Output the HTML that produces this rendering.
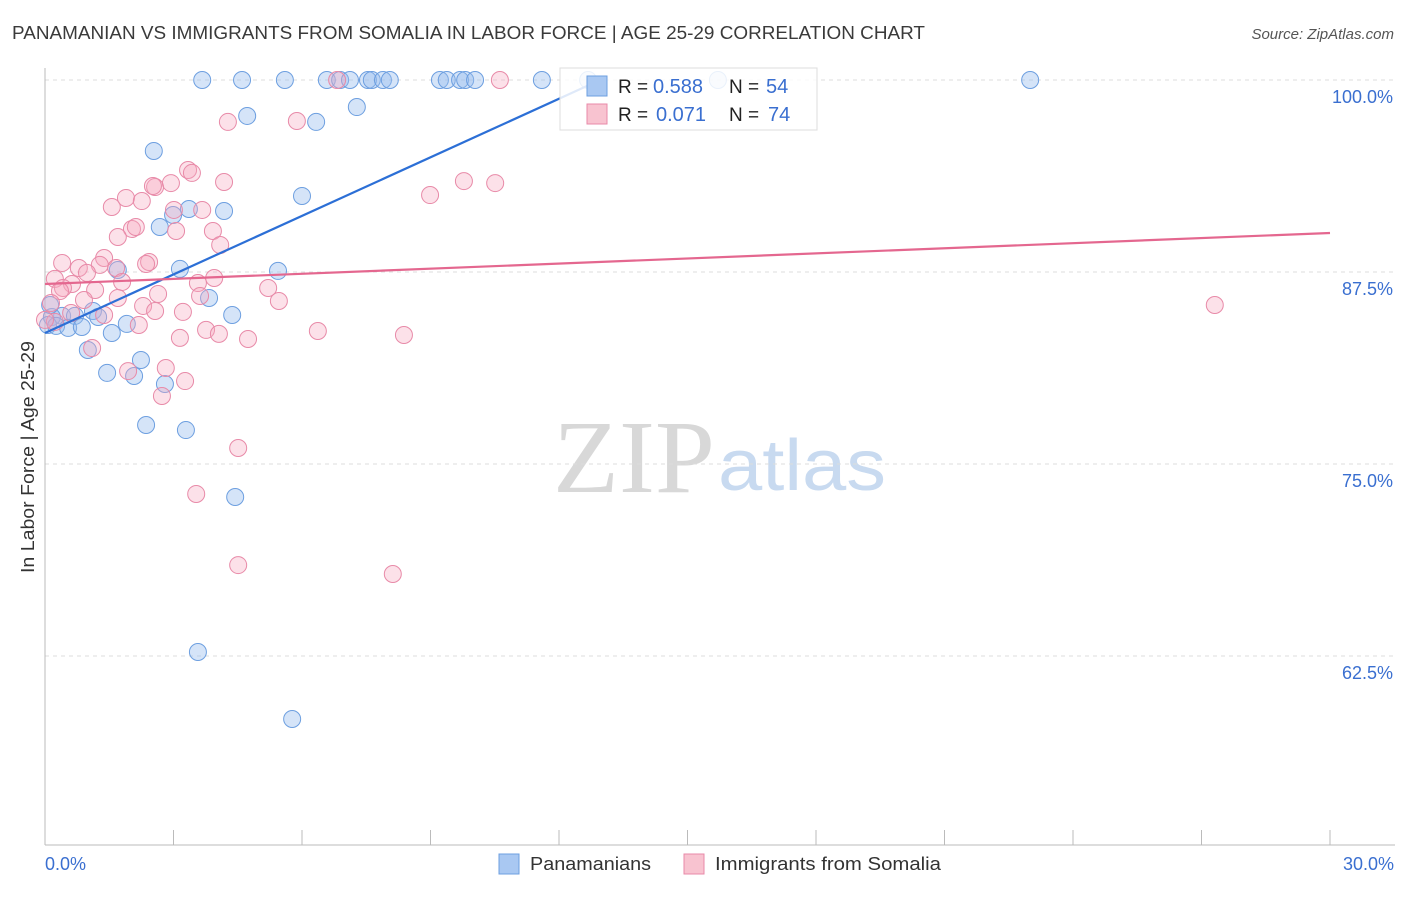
<!DOCTYPE html>
<html><head><meta charset="utf-8"><style>
body{margin:0;background:#fff;font-family:"Liberation Sans",sans-serif;}
svg text{font-family:"Liberation Sans",sans-serif;}
</style></head><body>
<svg width="1406" height="892" xmlns="http://www.w3.org/2000/svg">
<text x="12" y="39" font-size="18" fill="#3a3a3a" textLength="913" lengthAdjust="spacingAndGlyphs">PANAMANIAN VS IMMIGRANTS FROM SOMALIA IN LABOR FORCE | AGE 25-29 CORRELATION CHART</text>
<text x="1394" y="39" font-size="15" fill="#555" font-style="italic" text-anchor="end">Source: ZipAtlas.com</text>
<g>
<text x="553" y="492" font-size="104" fill="#d8d8d8" textLength="162" lengthAdjust="spacingAndGlyphs" style="font-family:'Liberation Serif',serif">ZIP</text>
<text x="718" y="490" font-size="72" fill="#c8daf0" textLength="168" lengthAdjust="spacingAndGlyphs">atlas</text>
</g>
<g id="grid"></g>
<g id="axes"></g>
<g id="pts"></g>
<g id="lines"></g>
<text transform="translate(34,457) rotate(-90)" font-size="18" fill="#333" text-anchor="middle" textLength="232" lengthAdjust="spacingAndGlyphs">In Labor Force | Age 25-29</text>
<text x="45" y="870" font-size="18" fill="#3a6fd0">0.0%</text>
<text x="1394" y="870" font-size="18" fill="#3a6fd0" text-anchor="end">30.0%</text>
<g>
<rect x="560" y="68" width="257" height="62" fill="rgba(255,255,255,0.85)" stroke="#ddd"/>
<rect x="587" y="76" width="20" height="20" fill="#a9c8f2" stroke="#6d9fe0"/>
<rect x="587" y="104" width="20" height="20" fill="#f8c3d0" stroke="#e88aa8"/>
<text x="618" y="93" font-size="19" fill="#222">R =</text>
<text x="653" y="93" font-size="20" fill="#3a6fd0">0.588</text>
<text x="729" y="93" font-size="19" fill="#222">N =</text>
<text x="766" y="93" font-size="20" fill="#3a6fd0">54</text>
<text x="618" y="121" font-size="19" fill="#222">R =</text>
<text x="656" y="121" font-size="20" fill="#3a6fd0">0.071</text>
<text x="729" y="121" font-size="19" fill="#222">N =</text>
<text x="768" y="121" font-size="20" fill="#3a6fd0">74</text>
</g>
<g>
<rect x="499" y="854" width="20" height="20" fill="#a9c8f2" stroke="#6d9fe0"/>
<text x="530" y="870" font-size="18" fill="#333" textLength="121" lengthAdjust="spacingAndGlyphs">Panamanians</text>
<rect x="684" y="854" width="20" height="20" fill="#f8c3d0" stroke="#e88aa8"/>
<text x="715" y="870" font-size="18" fill="#333" textLength="226" lengthAdjust="spacingAndGlyphs">Immigrants from Somalia</text>
</g>
</svg>
<script>
const yTicks=[100,87.5,75,62.5];
const yTickLabels=["100.0%","87.5%","75.0%","62.5%"];
const xTicks=[3,6,9,12,15,18,21,24,27,30];
const blueX=[3.67,4.60,5.60,6.58,6.89,7.12,7.54,7.63,7.89,8.05,9.22,9.38,9.69,9.81,10.04,11.60,12.68,15.71,23.0,4.72,7.28,6.33,2.54,6.00,3.36,4.18,2.99,2.68,3.15,5.44,1.70,3.83,4.37,1.12,0.40,0.70,0.16,1.24,0.07,0.26,0.54,0.86,1.91,1.56,1.00,2.24,1.45,2.08,2.80,2.36,3.29,4.44,3.57,5.77,0.12];
const blueY=[100,100,100,100,100,100,100,100,100,100,100,100,100,100,100,100,100,100,100,97.66,98.24,97.27,95.38,92.45,91.60,91.47,91.21,90.43,87.70,87.57,87.63,85.81,84.70,84.96,84.64,84.64,84.57,84.57,84.05,83.99,83.86,83.92,84.12,83.53,82.42,81.77,80.93,80.73,80.21,77.54,77.21,72.85,62.76,58.40,85.35];
const pinkX=[6.82,10.62,4.27,5.88,3.34,3.43,2.57,2.94,4.18,2.52,8.99,9.78,10.51,1.56,1.89,2.26,3.01,3.67,2.03,2.12,1.70,3.06,3.92,4.09,0.40,1.38,2.43,2.36,0.79,1.28,0.98,1.66,0.23,0.63,0.42,0.35,1.17,1.80,3.95,3.57,5.21,5.46,1.70,2.29,2.64,0.14,0.91,0.61,1.38,2.19,3.22,3.76,4.06,4.74,6.37,8.38,3.15,1.10,1.94,2.82,3.27,2.73,4.51,3.53,4.51,8.12,27.31,0.23,0.0,3.62,2.57];
const pinkY=[100,100,97.27,97.33,94.14,93.95,93.03,93.29,93.36,93.10,92.51,93.42,93.29,91.73,92.32,92.12,91.54,91.54,90.30,90.43,89.78,90.17,90.17,89.26,88.09,88.41,88.15,88.02,87.76,87.96,87.44,87.76,87.05,86.72,86.46,86.26,86.33,86.85,87.11,86.78,86.46,85.61,85.81,85.29,86.07,85.48,85.68,84.83,84.70,84.05,84.90,83.73,83.47,83.14,83.66,83.40,83.21,82.55,81.05,81.25,80.40,79.43,76.04,73.05,68.42,67.84,85.35,84.25,84.38,85.94,84.96];
const blueTrend=[83.53,100];const blueTrendX=[0,12.96];
const pinkTrend=[86.72,90.04];const pinkTrendX=[0,30];
const NS="http://www.w3.org/2000/svg";
const xs=v=>45+v/30*1285;
const ys=v=>80+(100-v)/12.5*192;
function mk(tag,attrs,parent){const e=document.createElementNS(NS,tag);for(const k in attrs)e.setAttribute(k,attrs[k]);document.getElementById(parent).appendChild(e);return e;}
yTicks.forEach((t,i)=>{
 const g=mk('line',{x1:45,x2:1395,y1:ys(t),y2:ys(t),stroke:'#ddd','stroke-dasharray':'4,4'},'grid');
 
 
 const l=mk('text',{x:1393,y:ys(t)+23,'font-size':18,fill:'#3a6fd0','text-anchor':'end'},'grid');
 l.textContent=yTickLabels[i];
 
 
});
const ya=mk('line',{x1:45,x2:45,y1:68,y2:845,stroke:'#bbb'},'axes');


const xa=mk('line',{x1:45,x2:1395,y1:845,y2:845,stroke:'#bbb'},'axes');


xTicks.forEach(t=>{
 const k=mk('line',{x1:xs(t),x2:xs(t),y1:830,y2:845,stroke:'#bbb'},'axes');
 
 
});
blueX.forEach((x,i)=>{
 const c=mk('circle',{cx:xs(x),cy:ys(blueY[i]),r:8.5,fill:'rgba(150,188,238,0.4)',stroke:'#6d9fe0','stroke-width':1},'pts');
 
 
});
pinkX.forEach((x,i)=>{
 const c=mk('circle',{cx:xs(x),cy:ys(pinkY[i]),r:8.5,fill:'rgba(245,170,192,0.35)',stroke:'#e88aa8','stroke-width':1},'pts');
 
 
});
const bl=mk('line',{x1:xs(blueTrendX[0]),y1:ys(blueTrend[0]),x2:xs(blueTrendX[1]),y2:ys(blueTrend[1]),stroke:'#2c6fd6','stroke-width':2.2},'lines');


const pl=mk('line',{x1:xs(pinkTrendX[0]),y1:ys(pinkTrend[0]),x2:xs(pinkTrendX[1]),y2:ys(pinkTrend[1]),stroke:'#e4678f','stroke-width':2.2},'lines');


</script>
</body></html>
